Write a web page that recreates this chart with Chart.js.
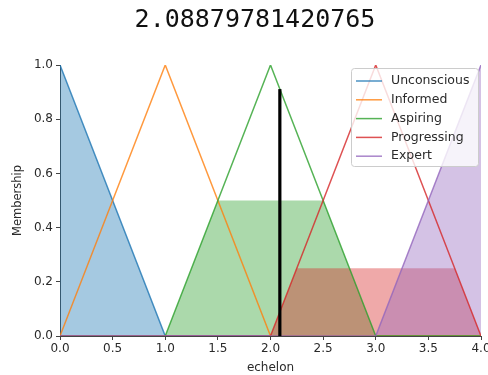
<!DOCTYPE html>
<html><head><meta charset="utf-8">
<script src="https://cdn.jsdelivr.net/npm/chart.js@4/dist/chart.umd.min.js"></script>
<style>html,body{margin:0;padding:0;background:#fff}canvas{display:block}</style>
</head><body>
<canvas id="c" width="488" height="375"></canvas>
<script>
const titleText = '2.08879781420765';
const terms = ['Unconscious', 'Informed', 'Aspiring', 'Progressing', 'Expert'];
const termColors = ['rgba(31,119,180,0.8)', 'rgba(255,127,14,0.8)', 'rgba(44,160,44,0.8)', 'rgba(214,39,40,0.8)', 'rgba(148,103,189,0.8)'];
const fillColors = ['rgba(31,119,180,0.4)', 'rgba(255,127,14,0.4)', 'rgba(44,160,44,0.4)', 'rgba(214,39,40,0.4)', 'rgba(148,103,189,0.4)'];
// membership function breakpoints
const unconsciousX = [0, 1, 4], unconsciousY = [1, 0, 0];
const informedX = [0, 1, 2, 4], informedY = [0, 1, 0, 0];
const aspiringX = [0, 1, 2, 3, 4], aspiringY = [0, 0, 1, 0, 0];
const progressingX = [0, 2, 3, 4], progressingY = [0, 0, 1, 0];
const expertX = [0, 3, 4], expertY = [0, 0, 1];
// activated (clipped) regions
const fillTerms = [0, 2, 3, 4];
const fillXs = [[0, 1], [1, 1.5, 2.5, 3], [2, 2.25, 3.75, 4], [3, 4]];
const fillYs = [[1, 0], [0, 0.5, 0.5, 0], [0, 0.25, 0.25, 0], [0, 1]];
// crisp output
const crispValue = 2.08879781420765;
const crispHeight = 0.911;
const xTicks = [0, 0.5, 1, 1.5, 2, 2.5, 3, 3.5, 4];
const yTicks = [0, 0.2, 0.4, 0.6, 0.8, 1.0];

const termXs = [unconsciousX, informedX, aspiringX, progressingX, expertX];
const termYs = [unconsciousY, informedY, aspiringY, progressingY, expertY];
const pts = (xs, ys) => xs.map((x, i) => ({x, y: ys[i]}));

const datasets = [];
fillTerms.forEach((t, i) => {
  datasets.push({
    label: terms[t] + ' fill', data: pts(fillXs[i], fillYs[i]),
    fill: 'origin', backgroundColor: fillColors[t], borderWidth: 0, pointRadius: 0,
    order: 50 - i, tension: 0
  });
});
terms.forEach((name, i) => {
  datasets.push({
    label: name, data: pts(termXs[i], termYs[i]), fill: false,
    borderColor: termColors[i], borderWidth: 1.5, pointRadius: 0, order: 20 - i, tension: 0
  });
});
datasets.push({
  label: 'crisp', data: [{x: crispValue, y: 0}, {x: crispValue, y: crispHeight}],
  borderColor: '#000', borderWidth: 3.2, pointRadius: 0, fill: false, order: 0
});

const textColor = '#2a2a2a';
const titlePlugin = {
  id: 'ttl',
  afterDraw(chart) {
    const ctx = chart.ctx;
    ctx.save();
    ctx.font = '25px "DejaVu Sans Mono"';
    ctx.fillStyle = '#111';
    ctx.textAlign = 'center';
    ctx.textBaseline = 'middle';
    ctx.fillText(titleText, 255, 20);
    ctx.restore();
  }
};
const legendPlugin = {
  id: 'lgd',
  afterDatasetsDraw(chart) {
    const ctx = chart.ctx;
    const bx = 351.5, by = 68.5, bw = 127, bh = 98, r = 3;
    ctx.save();
    ctx.beginPath();
    ctx.moveTo(bx + r, by);
    ctx.arcTo(bx + bw, by, bx + bw, by + bh, r);
    ctx.arcTo(bx + bw, by + bh, bx, by + bh, r);
    ctx.arcTo(bx, by + bh, bx, by, r);
    ctx.arcTo(bx, by, bx + bw, by, r);
    ctx.closePath();
    ctx.fillStyle = 'rgba(255,255,255,0.8)';
    ctx.fill();
    ctx.strokeStyle = '#cccccc';
    ctx.lineWidth = 1;
    ctx.stroke();
    ctx.font = '12.5px "DejaVu Sans"';
    ctx.textBaseline = 'middle';
    ctx.textAlign = 'left';
    terms.forEach((name, i) => {
      const y = 81 + i * 18.8;
      ctx.beginPath();
      ctx.moveTo(356, y); ctx.lineTo(382, y);
      ctx.strokeStyle = termColors[i]; ctx.lineWidth = 1.5; ctx.stroke();
      ctx.fillStyle = textColor;
      ctx.fillText(name, 391, y);
    });
    ctx.restore();
  }
};

new Chart(document.getElementById('c'), {
  type: 'line',
  data: {datasets},
  plugins: [titlePlugin, legendPlugin],
  options: {
    responsive: false, animation: false, devicePixelRatio: 1,
    layout: {padding: {top: 65, right: 7, left: 0, bottom: 0}},
    plugins: {legend: {display: false}, tooltip: {enabled: false}, title: {display: false}},
    elements: {line: {borderJoinStyle: 'miter'}},
    scales: {
      x: {
        type: 'linear', min: 0, max: 4,
        afterBuildTicks: s => { s.ticks = xTicks.map(v => ({value: v})); },
        ticks: {callback: v => Number(v).toFixed(1), color: textColor, font: {family: 'DejaVu Sans', size: 12}, padding: 2, maxRotation: 0, autoSkip: false},
        grid: {drawOnChartArea: false, drawTicks: true, tickLength: 4, color: '#444'},
        border: {color: '#444', width: 1},
        title: {display: true, text: 'echelon', color: textColor, font: {family: 'DejaVu Sans', size: 12}, padding: {top: 0, bottom: 0}},
        afterFit: s => { s.height = 39; s.paddingLeft = 0; s.paddingRight = 7; }
      },
      y: {
        min: 0, max: 1,
        afterBuildTicks: s => { s.ticks = yTicks.map(v => ({value: v})); },
        ticks: {callback: v => Number(v).toFixed(1), color: textColor, font: {family: 'DejaVu Sans', size: 12}, padding: 3},
        grid: {drawOnChartArea: false, drawTicks: true, tickLength: 4, color: '#444'},
        border: {color: '#444', width: 1},
        title: {display: true, text: 'Membership', color: textColor, font: {family: 'DejaVu Sans', size: 11.5}, padding: {top: 11, bottom: 0}},
        afterFit: s => { s.width = 60; s.paddingTop = 0; s.paddingBottom = 0; }
      }
    }
  }
});
</script>
</body></html>
